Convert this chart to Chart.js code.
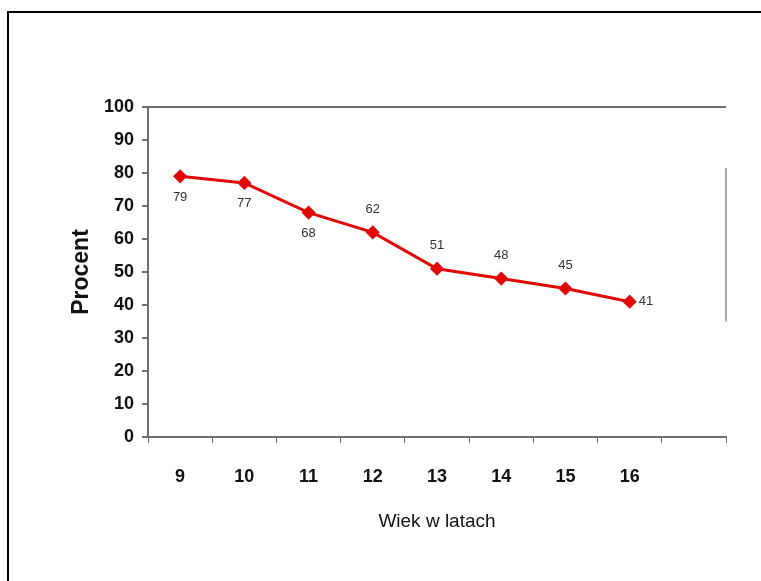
<!DOCTYPE html>
<html>
<head>
<meta charset="utf-8">
<script src="https://cdn.jsdelivr.net/npm/chart.js@4"></script>
<style>
  html, body { margin: 0; padding: 0; background: #fff; overflow: hidden; }
  #wrap { position: relative; width: 761px; height: 581px; }
  #frame { position: absolute; left: 7px; top: 11px; width: 800px; height: 600px;
           border-left: 2px solid #000; border-top: 2px solid #000; }
  canvas { position: absolute; left: 0; top: 0; }
</style>
</head>
<body>
<div id="wrap">
  <div id="frame"></div>
  <canvas id="chart" width="761" height="581"></canvas>
</div>
<script>
const ages = ["9", "10", "11", "12", "13", "14", "15", "16", ""];
const percent = [79, 77, 68, 62, 51, 48, 45, 41, null];
// where each value label sits relative to its point
const labelSide = ["below", "below", "below", "above", "above", "above", "above", "right"];

const axisColor = "#6e6e6e";

const valueLabels = {
  id: "valueLabels",
  afterDatasetsDraw(chart) {
    const ctx = chart.ctx;
    const meta = chart.getDatasetMeta(0);
    ctx.save();
    ctx.font = "13px 'Liberation Sans', Arial, sans-serif";
    ctx.fillStyle = "#333";
    ctx.textBaseline = "middle";
    meta.data.forEach((pt, i) => {
      const v = percent[i];
      if (v == null) return;
      let x = pt.x, y = pt.y;
      ctx.textAlign = "center";
      if (labelSide[i] === "below") y += 21;
      else if (labelSide[i] === "above") y -= 23;
      else { x += 9; ctx.textAlign = "left"; }
      ctx.fillText(String(v), x, y);
    });
    ctx.restore();
  }
};

// faint right edge of the plot area as seen in the scan
const rightEdge = {
  id: "rightEdge",
  afterDraw(chart) {
    const ctx = chart.ctx;
    const y = chart.scales.y;
    const x = chart.chartArea.right;
    ctx.save();
    ctx.strokeStyle = "#a8a8a8";
    ctx.lineWidth = 2;
    ctx.beginPath();
    ctx.moveTo(x, y.getPixelForValue(81.5));
    ctx.lineTo(x, y.getPixelForValue(35));
    ctx.stroke();
    ctx.restore();
  }
};

new Chart(document.getElementById("chart"), {
  type: "line",
  data: {
    labels: ages,
    datasets: [{
      data: percent,
      borderColor: "#e00808",
      backgroundColor: "#e00808",
      borderWidth: 3,
      pointStyle: "rectRot",
      pointRadius: 5,
      pointHoverRadius: 5,
      tension: 0
    }]
  },
  options: {
    responsive: false,
    animation: false,
    events: [],
    layout: { padding: { left: 0, top: 107, right: 35, bottom: 48 } },
    plugins: { legend: { display: false }, tooltip: { enabled: false } },
    scales: {
      x: {
        offset: true,
        grid: {
          offset: true,
          color: "rgba(0,0,0,0)",
          tickColor: axisColor,
          tickLength: 6,
          drawOnChartArea: false
        },
        border: { color: axisColor, width: 2 },
        ticks: {
          color: "#111",
          padding: 23,
          font: { family: "'Liberation Sans', Arial, sans-serif", size: 18, weight: "bold" }
        },
        title: {
          display: true,
          text: "Wiek w latach",
          color: "#111",
          padding: { top: 0, bottom: 0 },
          font: { family: "'Liberation Sans', Arial, sans-serif", size: 19 }
        },
        afterFit(scale) { scale.height = 96; }
      },
      y: {
        min: 0,
        max: 100,
        ticks: {
          stepSize: 10,
          color: "#111",
          padding: 8,
          font: { family: "'Liberation Sans', Arial, sans-serif", size: 18, weight: "bold" }
        },
        grid: {
          color: (c) => (c.tick && c.tick.value === 100 ? axisColor : "rgba(0,0,0,0)"),
          tickColor: axisColor,
          tickLength: 6,
          lineWidth: 2
        },
        border: { color: axisColor, width: 2 },
        title: {
          display: true,
          text: "Procent",
          color: "#111",
          padding: { top: 68, bottom: 0 },
          font: { family: "'Liberation Sans', Arial, sans-serif", size: 23, weight: "bold" }
        },
        afterFit(scale) { scale.width = 148; }
      }
    }
  },
  plugins: [valueLabels, rightEdge]
});
</script>
</body>
</html>
